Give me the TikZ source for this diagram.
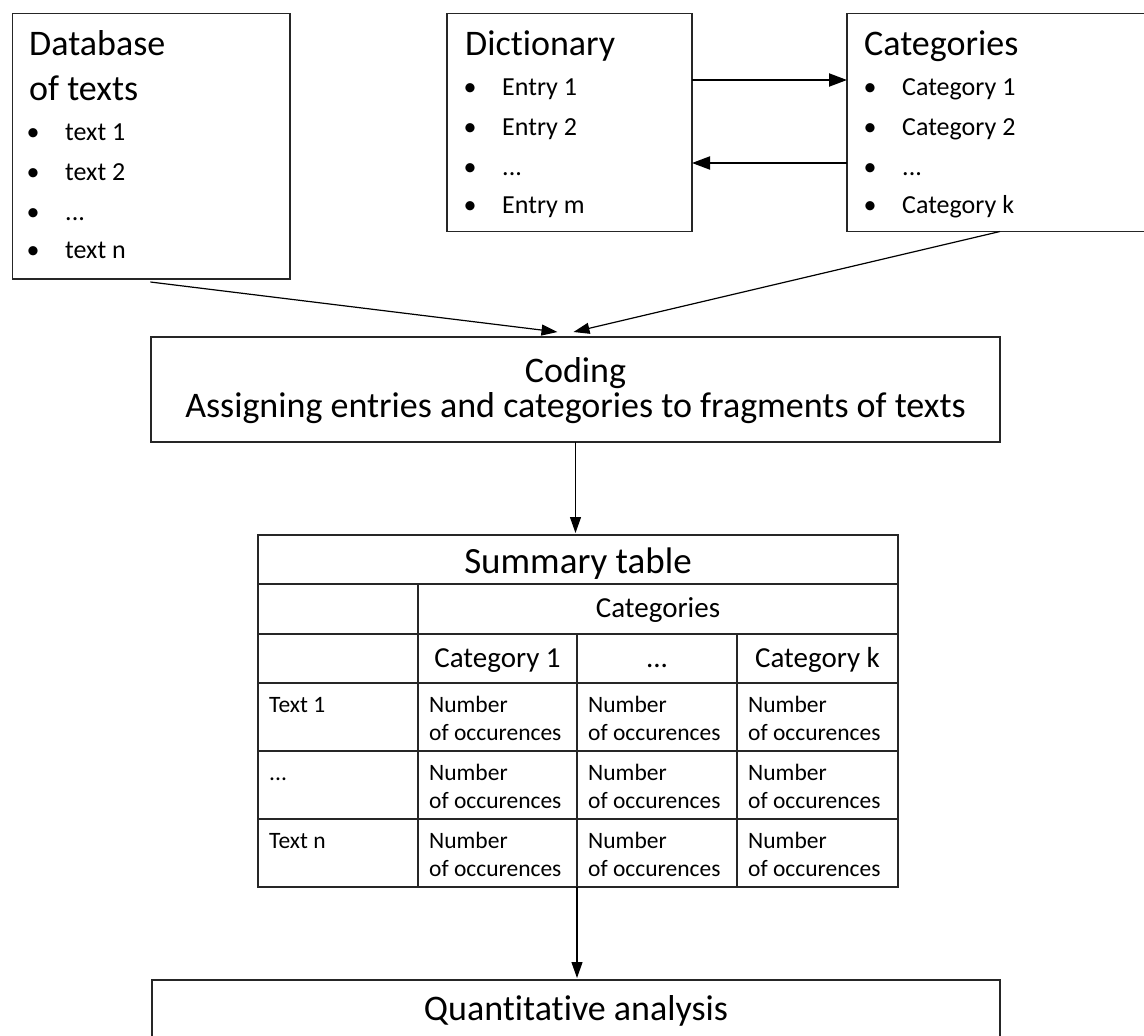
\documentclass[tikz,border=0pt]{standalone}
\usepackage{fontspec}
\setmainfont{Carlito}[Ligatures=NoCommon]
\usetikzlibrary{arrows.meta}
\newcommand\fBig{\fontsize{36}{43}\selectfont}
\newcommand\fSum{\fontsize{37}{44}\selectfont}
\newcommand\fList{\fontsize{26}{31}\selectfont}
\newcommand\fHead{\fontsize{29}{35}\selectfont}
\newcommand\fCell{\fontsize{23.5}{28}\selectfont}
\newcommand\tdots{...}
\tikzset{
  box/.style={draw=black!85, line width=1.4pt, inner sep=0pt, outer sep=0pt, rectangle},
  bigt/.style={font=\fBig, anchor=base west, inner sep=0pt},
  bigc/.style={font=\fBig, anchor=base, inner sep=0pt},
  lst/.style={font=\fList, anchor=base west, inner sep=0pt},
  bul/.style={font=\fList, anchor=base, inner sep=0pt},
  head/.style={font=\fHead, anchor=base, inner sep=0pt},
  cell/.style={font=\fCell, anchor=base west, inner sep=0pt},
  arr/.style={-{Triangle[length=16pt,width=11pt]}, line width=1.2pt, black},
  arrb/.style={-{Triangle[length=18pt,width=13pt]}, line width=2pt, black},
  grid/.style={line width=1.3pt, black!85}
}
\begin{document}
\begin{tikzpicture}[x=1pt,y=-1pt]
\useasboundingbox (0,0) rectangle (1144,1036);
% boxes
\node[box, minimum width=277.3pt, minimum height=265.7pt] (db) at (151.35,146.15) {};
\node[box, minimum width=245pt, minimum height=218.2pt] (dict) at (569.5,122.4) {};
\node[box, minimum width=313pt, minimum height=218.2pt] (cat) at (1003.5,122.4) {};
\node[box, minimum width=849pt, minimum height=105pt] (coding) at (575.5,389.5) {};
\node[box, minimum width=640pt, minimum height=352pt] (tbl) at (578,711) {};
\node[box, minimum width=848pt, minimum height=140pt] (qa) at (576,1050) {};

% Database
\node[bigt] (dbt1) at (29,55) {Database};
\node[bigt] (dbt2) at (29,100) {of texts};
\foreach \y/\t [count=\i] in {140/text 1,180/text 2,220/\tdots,258/text n}{
  \node[bul] (dbb\i) at (33,\y) {•};
  \node[lst] (dbl\i) at (65,\y) {\t};
}
% Dictionary
\node[bigt] (dictt) at (465,55) {Dictionary};
\foreach \y/\t [count=\i] in {95/Entry 1,135/Entry 2,175/\tdots,213/Entry m}{
  \node[bul] (dcb\i) at (470,\y) {•};
  \node[lst] (dcl\i) at (502,\y) {\t};
}
% Categories
\node[bigt] (catt) at (864,55) {Categories};
\foreach \y/\t [count=\i] in {95/Category 1,135/Category 2,175/\tdots,213/Category k}{
  \node[bul] (ctb\i) at (870,\y) {•};
  \node[lst] (ctl\i) at (902,\y) {\t};
}
% Coding
\node[bigc] (cod1) at (575.5,382) {Coding};
\node[bigc] (cod2) at (575.5,417) {Assigning entries and categories to fragments of texts};

% Table grid
\draw[grid] (258,584) -- (898,584);
\draw[grid] (258,634) -- (898,634);
\draw[grid] (258,683) -- (898,683);
\draw[grid] (258,751) -- (898,751);
\draw[grid] (258,819) -- (898,819);
\draw[grid] (418,584) -- (418,887);
\draw[grid] (577,634) -- (577,887);
\draw[grid] (737,634) -- (737,887);
\node[font=\fSum, anchor=base, inner sep=0pt] (sumt) at (578,573) {Summary table};
\node[head] (cats) at (658,617) {Categories};
\node[head] (h1) at (497.5,667) {Category 1};
\node[head] (h2) at (657,667) {\tdots};
\node[head] (h3) at (817.5,667) {Category k};
\node[cell] (r1) at (269,712) {Text 1};
\node[cell] (r2) at (269,780) {\tdots};
\node[cell] (r3) at (269,848) {Text n};
\foreach \r/\y in {1/712,2/780,3/848}{
  \foreach \cx [count=\c] in {429,588,748}{
    \node[cell] (n\r\c) at (\cx,\y) {Number};
    \node[cell] (o\r\c) at (\cx,\y+28) {of occurences};
  }
}
% Quantitative analysis
\node[bigc] (qat) at (576,1020) {Quantitative analysis};

% connectors
\draw[arrb] ([yshift=42.4pt]dict.east) -- ([yshift=42.4pt]cat.west);
\draw[arrb] ([yshift=-40.6pt]cat.west) -- ([yshift=-40.6pt]dict.east);
\draw[arr] ([xshift=-1pt,yshift=-3pt]db.south) -- ([xshift=-18pt,yshift=5pt]coding.north);
\draw[arr] ([xshift=-3.5pt]cat.south) -- ([xshift=-2pt,yshift=5pt]coding.north);
\draw[arr, shorten >=2pt] (coding.south) -- (coding.south |- tbl.north);
\draw[arr, shorten >=2pt] ([xshift=-1pt]tbl.south) -- ([xshift=-1pt]tbl.south |- qa.north);
\end{tikzpicture}
\end{document}
